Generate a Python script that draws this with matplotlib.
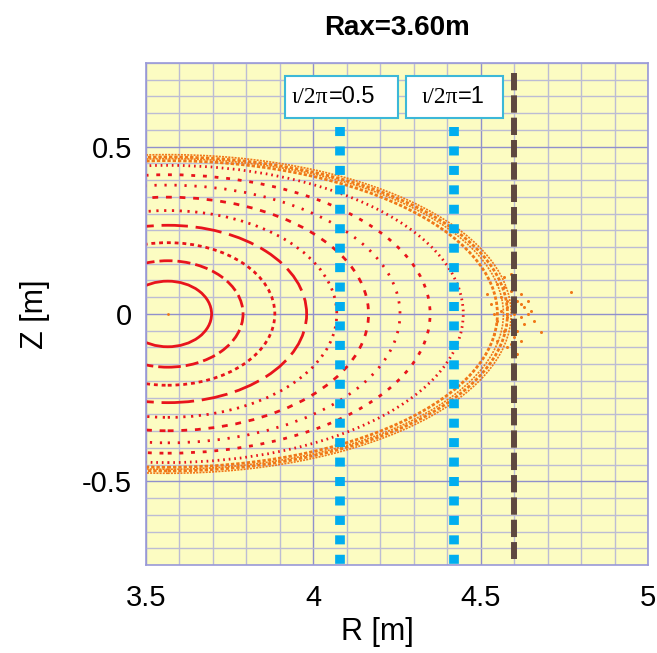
import matplotlib
matplotlib.use('Agg')
import matplotlib.pyplot as plt
from matplotlib.patches import Ellipse, Rectangle
from matplotlib.ticker import MultipleLocator

plt.rcParams['font.family'] = ['Liberation Sans', 'DejaVu Sans']

# magnetic axis position
axis_R = 3.565
axis_Z = 0.0

# nested flux surfaces: half-width (towards outboard side) and half-height
surf_a = [0.131, 0.225, 0.320, 0.415, 0.505, 0.600, 0.694, 0.784, 0.883]
surf_b = [0.098, 0.159, 0.213, 0.265, 0.309, 0.349, 0.385, 0.416, 0.444]
# dash pattern of each surface (units of linewidth), None = solid
surf_dash = [None, (4.7, 1.8), (1.4, 1.4), (9.5, 2.8), (0.8, 2.0),
             (2.1, 2.8), (0.8, 2.8), (1.4, 2.8), (0.6, 1.4)]

# stochastic (orange) layers
edge_a = [0.985, 1.003, 1.015, 1.026]
edge_b = [0.458, 0.464, 0.469, 0.476]
edge_lw = [2.0, 1.2, 2.0, 1.2]

# scattered points near the outboard tip
tip_R = [4.53, 4.55, 4.56, 4.57, 4.58, 4.59, 4.60, 4.61, 4.62, 4.63, 4.64,
         4.60, 4.62, 4.57, 4.59, 4.61, 4.63, 4.65, 4.55, 4.58, 4.77, 4.68,
         4.54, 4.56, 4.58, 4.60, 4.62, 4.57, 4.59, 4.61, 4.55, 4.64, 4.66,
         4.52, 4.54, 4.62, 4.60, 4.58]
tip_Z = [0.03, -0.02, 0.05, -0.05, 0.02, 0.07, -0.03, 0.04, -0.01, 0.02, 0.0,
         -0.07, 0.06, 0.08, -0.09, -0.05, -0.03, 0.01, 0.09, -0.1, 0.065, -0.055,
         0.0, 0.01, -0.01, 0.0, 0.03, 0.11, 0.12, -0.12, -0.08, 0.04, -0.02,
         0.06, -0.06, -0.08, 0.1, 0.04]

# rotational transform positions and last closed surface
iota_R = [4.08, 4.42]
iota_lbl = [('\u03b9/2\u03c0', '=0.5'), ('\u03b9/2\u03c0', '=1')]
wall_R = 4.60

fig = plt.figure(figsize=(6.57, 6.53), dpi=100)
ax = fig.add_axes([0.2222, 0.1348, 0.7641, 0.7688])
ax.set_facecolor('#fcfcc2')
ax.set_xlim(3.5, 5.0)
ax.set_ylim(-0.75, 0.75)

ax.xaxis.set_major_locator(MultipleLocator(0.5))
ax.xaxis.set_minor_locator(MultipleLocator(0.1))
ax.yaxis.set_major_locator(MultipleLocator(0.5))
ax.yaxis.set_minor_locator(MultipleLocator(0.05))
ax.set_xticks([3.5, 4, 4.5, 5])
ax.set_xticklabels(['3.5', '4', '4.5', '5'])
ax.set_yticks([-0.5, 0, 0.5])
ax.set_yticklabels(['-0.5', '0', '0.5'])
ax.grid(which='minor', color='#bcbcd4', lw=1.0)
ax.grid(which='major', color='#9090cc', lw=1.0)
ax.set_axisbelow(True)
ax.tick_params(which='both', length=0, labelsize=21)
ax.tick_params(axis='x', pad=14)
ax.tick_params(axis='y', pad=10)
for s in ax.spines.values():
    s.set_color('#9a9ad8')
    s.set_linewidth(1.2)

red = '#e8141c'
orange = '#f07818'

for a, b, lw in zip(edge_a, edge_b, edge_lw):
    ax.add_patch(Ellipse((axis_R, axis_Z), 2 * a, 2 * b, fill=False,
                         ec=orange, lw=lw, ls=(0, (1.2, 0.7))))
ax.plot(tip_R, tip_Z, 'o', ms=2.2, color=orange, mec='none')

for a, b, d in zip(surf_a, surf_b, surf_dash):
    ls = '-' if d is None else (0, d)
    ax.add_patch(Ellipse((axis_R, axis_Z), 2 * a, 2 * b, fill=False,
                         ec=red, lw=2.0, ls=ls))
ax.plot([axis_R], [axis_Z], 'o', ms=2, color=orange, mec='none')

for r in iota_R:
    ax.plot([r, r], [0.56, -0.76], color='#00aeef', lw=7,
            dashes=(0.93, 1.07), solid_capstyle='butt', dash_capstyle='butt')
ax.plot([wall_R, wall_R], [0.72, -0.731], color='#5e4840', lw=4.3,
        dashes=(2.9, 0.84), dash_capstyle='butt')

# label boxes
boxes = [(3.915, 4.252, 4.045), (4.277, 4.567, 4.432)]
for (x0, x1, xs), (g, v) in zip(boxes, iota_lbl):
    ax.add_patch(Rectangle((x0, 0.586), x1 - x0, 0.126, fc='white',
                           ec='#3cb8d8', lw=1.5, zorder=5))
    ax.text(xs, 0.647, g, ha='right', va='center', fontsize=17,
            family=['Liberation Serif', 'DejaVu Serif'], zorder=6)
    ax.text(xs, 0.647, v, ha='left', va='center', fontsize=17, zorder=6)

fig.text(0.604, 0.957, 'Rax=3.60m', ha='center', va='center',
         fontsize=20, fontweight='bold')
fig.text(0.575, 0.032, 'R [m]', ha='center', va='center', fontsize=22)
fig.text(0.053, 0.518, 'Z [m]', ha='center', va='center', fontsize=22,
         rotation=90)

fig.savefig('out.png', dpi=100)
